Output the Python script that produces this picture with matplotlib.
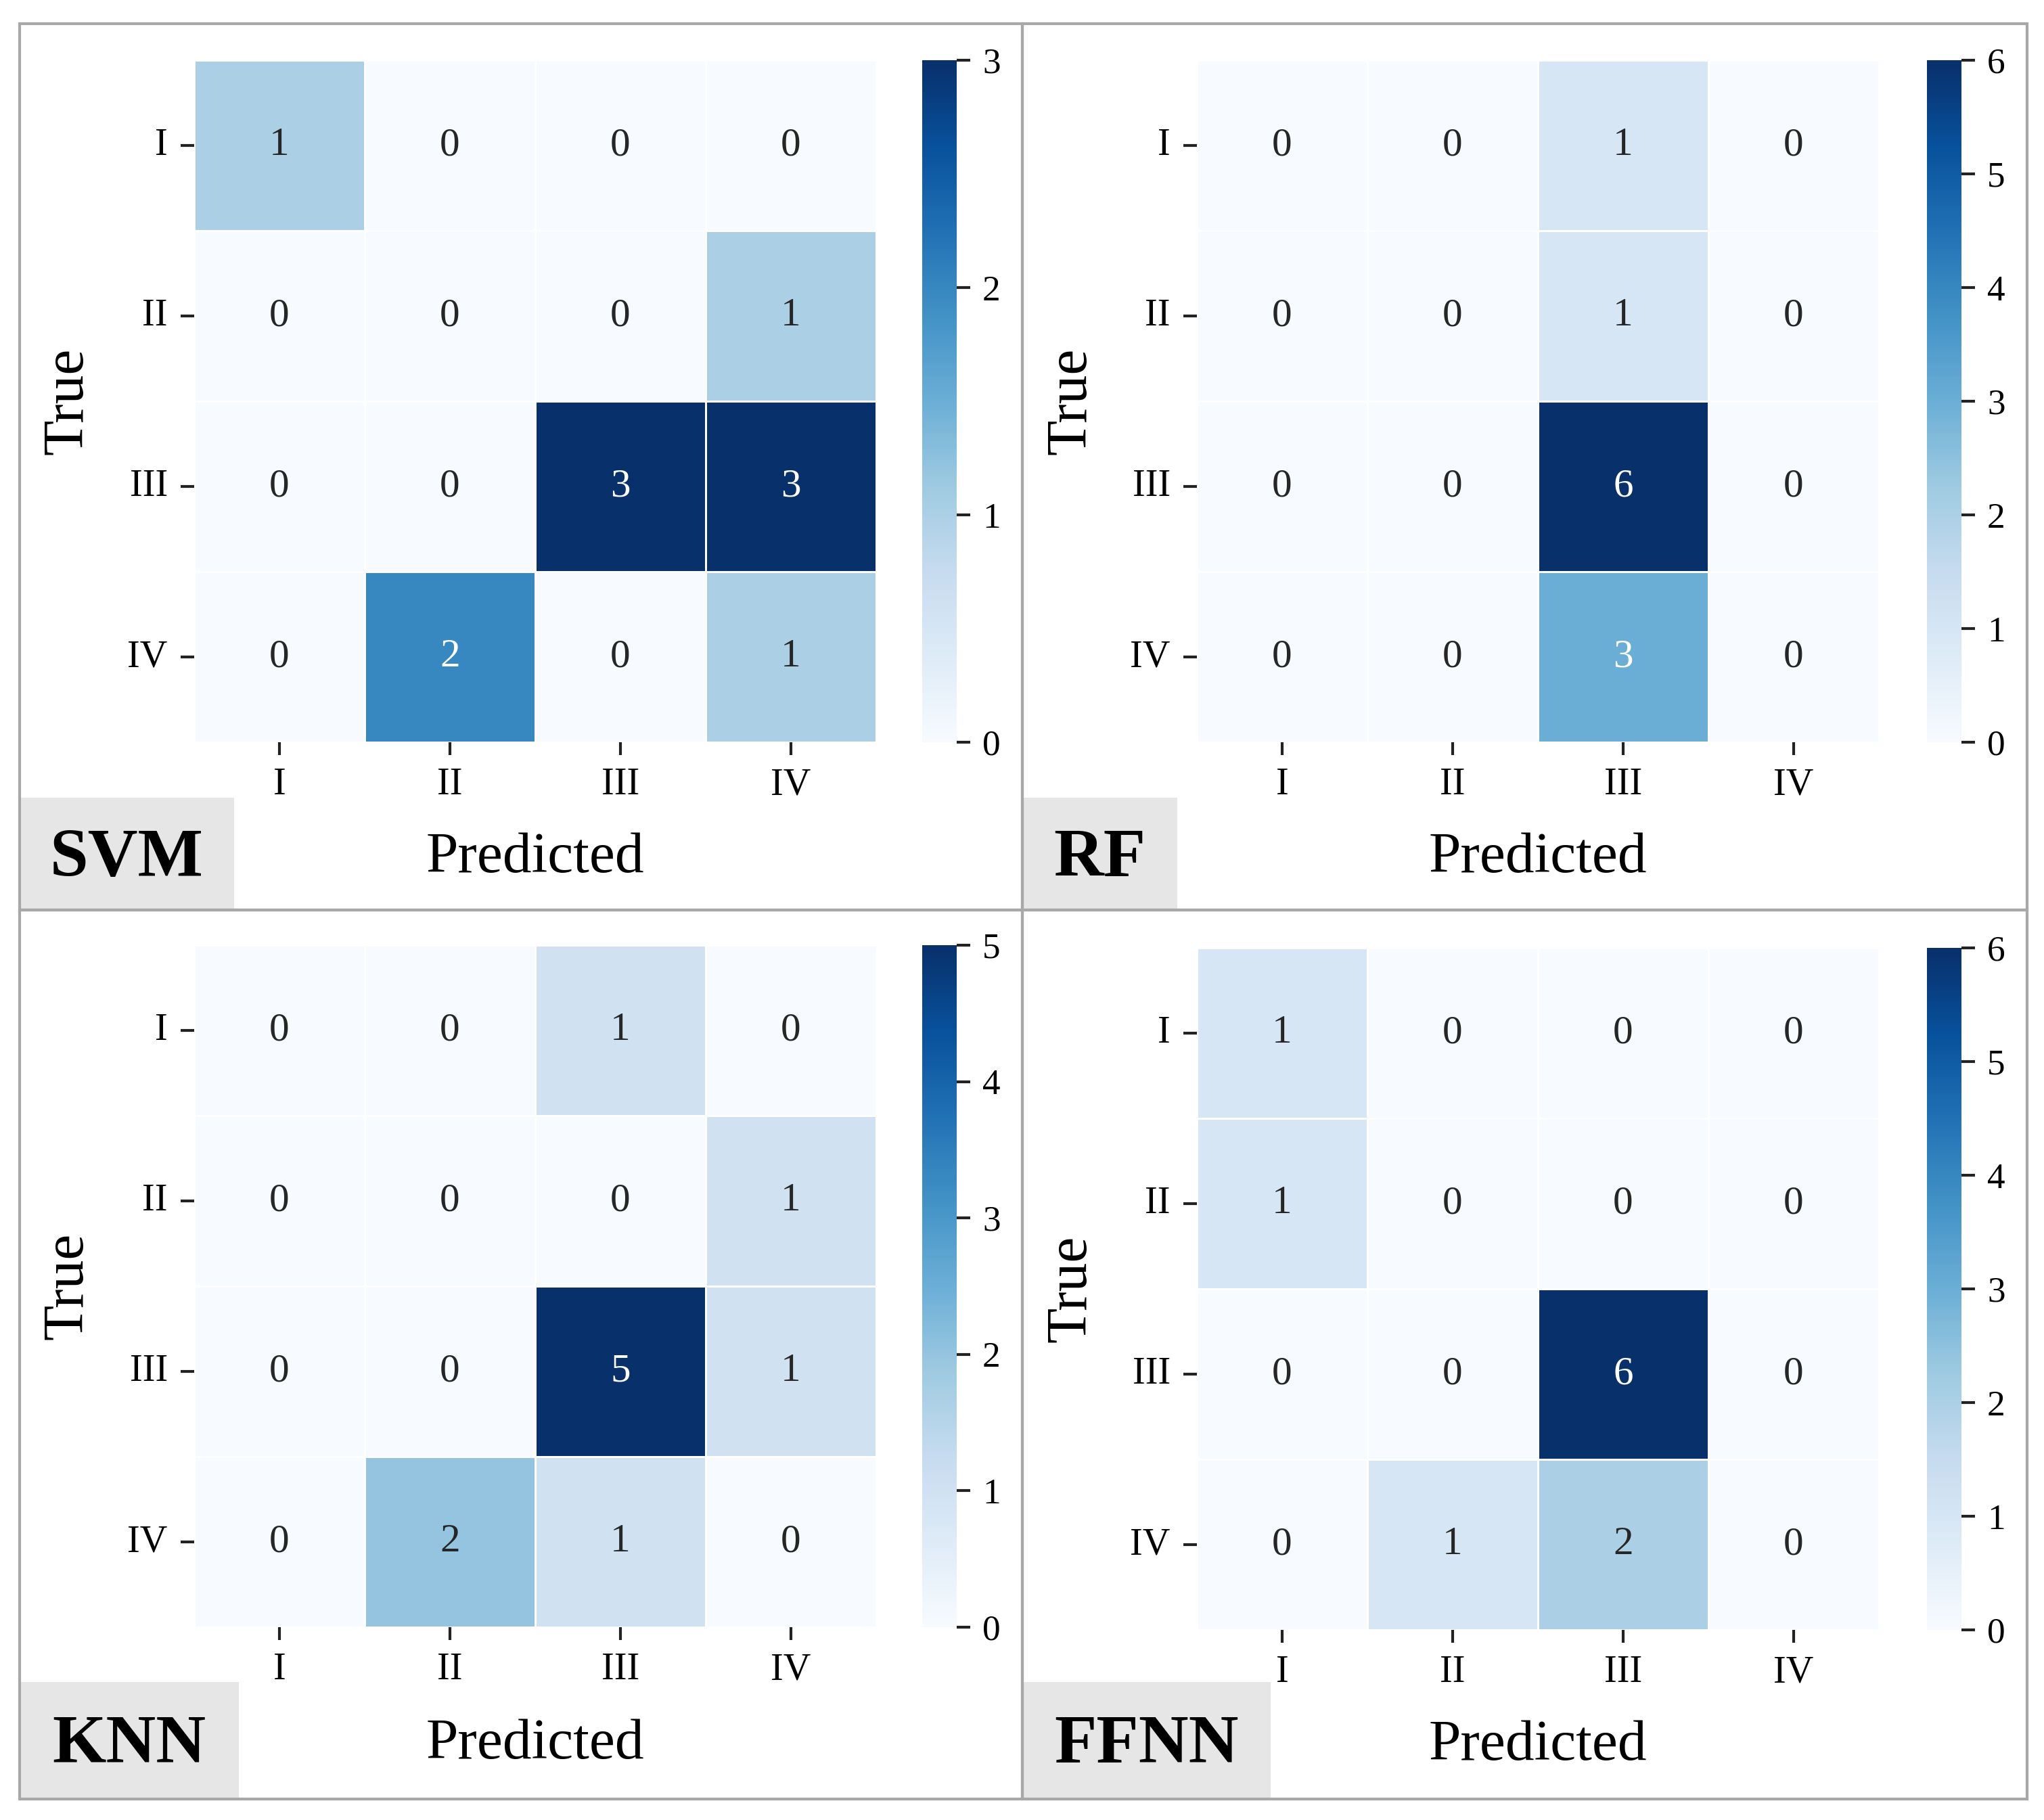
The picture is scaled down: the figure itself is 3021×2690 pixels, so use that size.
import numpy as np
import matplotlib
matplotlib.use('Agg')
import matplotlib.pyplot as plt
import seaborn as sns
from matplotlib.patches import Rectangle

classes = ['I', 'II', 'III', 'IV']
svm = [[1, 0, 0, 0], [0, 0, 0, 1], [0, 0, 3, 3], [0, 2, 0, 1]]
rf = [[0, 0, 1, 0], [0, 0, 1, 0], [0, 0, 6, 0], [0, 0, 3, 0]]
knn = [[0, 0, 1, 0], [0, 0, 0, 1], [0, 0, 5, 1], [0, 2, 1, 0]]
ffnn = [[1, 0, 0, 0], [1, 0, 0, 0], [0, 0, 6, 0], [0, 1, 2, 0]]
names = ['SVM', 'RF', 'KNN', 'FFNN']

plt.rcParams['font.family'] = ['Liberation Serif', 'DejaVu Serif']

W, H = 3021, 2690
fig = plt.figure(figsize=(W / 300, H / 300), dpi=300)


def rect(x0, y0, x1, y1):
    # pixel box -> figure fraction [left, bottom, width, height]
    return [x0 / W, 1 - y1 / H, (x1 - x0) / W, (y1 - y0) / H]


# panel layout in pixels: frame, heatmap, colorbar, label box
panels = [
    dict(frame=(29, 35, 1511, 1345), hm=(287, 89, 1295, 1097), cb=(1363, 89, 1414, 1097),
         box=(29, 1179, 346, 1345), true_x=101, pred_y=1268),
    dict(frame=(1511, 35, 2996, 1345), hm=(1769, 89, 2777, 1097), cb=(2848, 89, 2899, 1097),
         box=(1511, 1179, 1740, 1345), true_x=1584, pred_y=1268),
    dict(frame=(29, 1345, 1511, 2659), hm=(287, 1397, 1295, 2405), cb=(1363, 1397, 1414, 2405),
         box=(29, 2486, 353, 2659), true_x=101, pred_y=2578),
    dict(frame=(1511, 1345, 2996, 2659), hm=(1769, 1401, 2777, 2409), cb=(2848, 1401, 2899, 2409),
         box=(1511, 2486, 1878, 2659), true_x=1584, pred_y=2580),
]

for data, name, p in zip([svm, rf, knn, ffnn], names, panels):
    m = np.array(data)
    ax = fig.add_axes(rect(*p['hm']))
    cax = fig.add_axes(rect(*p['cb']))
    sns.heatmap(m, ax=ax, cbar_ax=cax, cmap='Blues', annot=True, fmt='d',
                linewidths=0.6, linecolor='white',
                annot_kws={'fontsize': 14.2},
                xticklabels=classes, yticklabels=classes)
    ax.tick_params(axis='x', length=4.6, width=1.0, color='#222222', pad=4.3,
                   labelsize=13.5, bottom=True)
    ax.tick_params(axis='y', length=4.8, width=1.0, color='#222222', pad=4.6,
                   labelsize=13.5, left=True)
    plt.setp(ax.get_yticklabels(), rotation=0)
    plt.setp(ax.get_xticklabels(), rotation=0)
    ax.set_xlabel('')
    ax.set_ylabel('')

    cbar = ax.collections[0].colorbar
    cbar.outline.set_visible(False)
    cbar.set_ticks(range(0, m.max() + 1))
    cbar.ax.tick_params(length=4.8, width=1.0, color='#222222', pad=4.3, labelsize=12.8)

    x0, y0, x1, y1 = p['frame']
    fig.patches.append(Rectangle((x0 / W, 1 - y1 / H), (x1 - x0) / W, (y1 - y0) / H,
                                 transform=fig.transFigure, fill=False,
                                 edgecolor='#a8a8a8', linewidth=1.0, zorder=5))
    bx0, by0, bx1, by1 = p['box']
    fig.patches.append(Rectangle((bx0 / W, 1 - by1 / H), (bx1 - bx0) / W, (by1 - by0) / H,
                                 transform=fig.transFigure, facecolor='#e6e6e6',
                                 edgecolor='none', zorder=1))
    fig.text((bx0 + bx1) / 2 / W, 1 - ((by0 + by1) / 2 + 8) / H, name, fontsize=24.5,
             fontweight='bold', ha='center', va='center')

    hx0, hy0, hx1, hy1 = p['hm']
    fig.text((hx0 + hx1) / 2 / W, 1 - p['pred_y'] / H, 'Predicted', fontsize=20.5,
             ha='center', va='center')
    fig.text(p['true_x'] / W, 1 - (hy0 + hy1) / 2 / H, 'True', fontsize=20.5,
             rotation=90, ha='center', va='center')

fig.savefig('out.png', dpi=300)
